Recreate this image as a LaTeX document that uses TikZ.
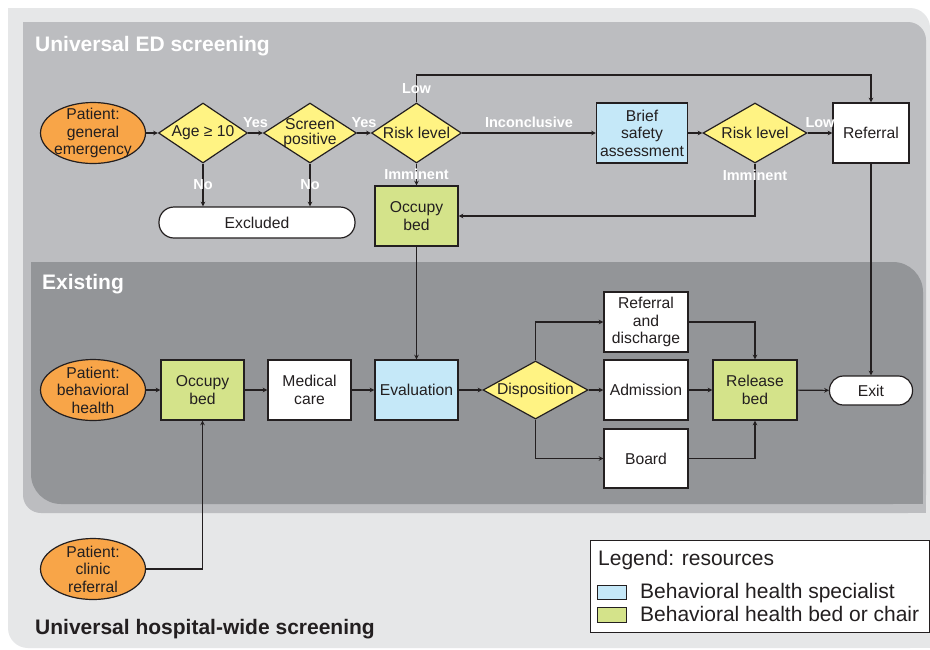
\documentclass[tikz,border=0pt]{standalone}
\usepackage{fontspec}
\setmainfont{Liberation Sans}
\usetikzlibrary{shapes.geometric}

\definecolor{ink}{HTML}{231F20}
\definecolor{lightbg}{HTML}{E6E7E8}
\definecolor{midbg}{HTML}{BCBDC0}
\definecolor{darkbg}{HTML}{939598}
\definecolor{orangec}{HTML}{F8A548}
\definecolor{yellowc}{HTML}{FFF383}
\definecolor{bluec}{HTML}{C5E8F8}
\definecolor{greenc}{HTML}{D4E38A}

\newcommand{\nodefont}{\fontsize{15.7}{17.5}\selectfont}
\newcommand{\legfont}{\fontsize{21}{24}\selectfont}

\begin{document}
\begin{tikzpicture}[x=1pt, y=-1pt,
   box/.style={draw=ink, line width=1.2pt, minimum width=83pt, minimum height=60pt, inner sep=0pt, align=center, font=\nodefont, text=ink},
   decision/.style={diamond, aspect=1.5, draw=ink, fill=yellowc, line width=1.2pt, minimum width=90pt, minimum height=60pt, inner sep=0pt, align=center, font=\nodefont, text=ink},
   patient/.style={ellipse, draw=ink, fill=orangec, line width=1.2pt, minimum width=105pt, minimum height=61pt, inner sep=-5pt, align=center, font=\nodefont, text=ink},
   term/.style={rectangle, rounded corners=15pt, draw=ink, fill=white, line width=1.2pt, inner sep=0pt, font=\nodefont, text=ink},
   lab/.style={text=white, font=\bfseries\fontsize{14.5}{16}\selectfont, inner sep=1pt},
   title/.style={text=white, font=\bfseries\fontsize{21}{24}\selectfont, anchor=base west, inner sep=0pt},
   arr/.style={-stealth, draw=ink, line width=1.1pt}]
   \useasboundingbox[fill=white] (0,0) rectangle (930,649);
   % background panels
   \fill[lightbg, rounded corners=20pt] (8,8) rectangle (930,648);
   \fill[lightbg] (8,8) rectangle (60,60);
   \fill[lightbg] (880,600) rectangle (930,648);
   \fill[midbg, rounded corners=18pt] (23,22) rectangle (926,513);
   \fill[midbg] (23,22) rectangle (60,60);
   \fill[midbg] (880,470) rectangle (926,513);
   \fill[darkbg, rounded corners=30pt] (31,262) rectangle (923,504);
   \fill[darkbg] (31,262) rectangle (80,300);
   \fill[darkbg] (870,460) rectangle (923,504);

   \node[title] (edtitle) at (35,51) {Universal ED screening};
   \node[title] (extitle) at (42,289) {Existing};
   \node[title, text=ink] (hwtitle) at (35,634) {Universal hospital-wide screening};

   % universal ED screening
   \node[patient] (ge) at (93,133) {Patient:\\general\\emergency};
   \node[decision, minimum width=89pt] (age) at (203,133) {Age ≥ 10};
   \node[decision, minimum width=93pt, inner sep=-5pt, font=\fontsize{15.7}{14.5}\selectfont] (scr) at (310,133) {Screen\\positive};
   \node[decision] (risk1) at (416.5,133) {Risk level};
   \node[box, fill=bluec, minimum width=91pt] (brief) at (642,133) {Brief\\safety\\assessment};
   \node[decision, aspect=1.7, minimum width=104pt] (risk2) at (755,133) {Risk level};
   \node[box, fill=white, minimum width=76pt] (ref) at (871,133) {Referral};
   \node[term, minimum width=196pt, minimum height=31pt] (excl) at (257,222.5) {Excluded};
   \node[box, fill=greenc] (occ1) at (416.5,216) {Occupy\\bed};
   \coordinate (lowtop) at (871,75);

   % existing
   \node[patient] (bh) at (93,390) {Patient:\\behavioral\\health};
   \node[box, fill=greenc] (occ2) at (202.5,390) {Occupy\\bed};
   \node[box, fill=white] (med) at (309.5,390) {Medical\\care};
   \node[box, fill=bluec] (eval) at (416.5,390) {Evaluation};
   \node[decision, aspect=1.8, minimum width=105pt, minimum height=58pt] (disp) at (535.5,390) {Disposition};
   \node[box, fill=white, minimum width=84pt] (refdis) at (646,322) {Referral\\and\\discharge};
   \node[box, fill=white, minimum width=84pt] (adm) at (646,390) {Admission};
   \node[box, fill=white, minimum width=84pt, minimum height=59pt] (board) at (646,458.5) {Board};
   \node[box, fill=greenc, minimum width=84pt] (rel) at (755,390) {Release\\bed};
   \node[term, rounded corners=14pt, minimum width=83pt, minimum height=29pt] (exit) at (871,390.5) {Exit};

   % hospital-wide
   \node[patient] (clin) at (93,569) {Patient:\\clinic\\referral};

   \draw[arr] (ge) -- (age);
   \draw[arr] (age) -- node[lab, above=4pt] {Yes} (scr);
   \draw[arr] (scr) -- node[lab, above=4pt] {Yes} (risk1);
   \draw[arr] (age) -- node[lab] {No} (age |- excl.north);
   \draw[arr] (scr) -- node[lab] {No} (scr |- excl.north);
   \draw[arr] (risk1) -- node[lab] {Imminent} (occ1);
   \draw[arr] (risk1) -- node[lab, above=4pt] {Inconclusive} (brief);
   \draw[arr] (risk1.north) |- node[lab, pos=0.25] {Low} (lowtop) -- (ref.north);
   \draw[arr] (brief) -- (risk2);
   \draw[arr] (risk2) -- node[lab, above=4pt] {Low} (ref);
   \draw[arr] (risk2.south) |- node[lab, pos=0.113] {Imminent} (occ1.east);
   \draw[arr] (occ1) -- (eval);
   \draw[arr] (ref) -- (exit);

   \draw[arr] (bh) -- (occ2);
   \draw[arr] (occ2) -- (med);
   \draw[arr] (med) -- (eval);
   \draw[arr] (eval) -- (disp);
   \draw[arr] (disp.north) |- (refdis.west);
   \draw[arr] (disp) -- (adm);
   \draw[arr] (disp.south) |- (board.west);
   \draw[arr] (refdis.east) -| (rel.north);
   \draw[arr] (adm) -- (rel);
   \draw[arr] (board.east) -| (rel.south);
   \draw[arr] (rel) -- (exit);
   \draw[arr] (clin.east) -| (occ2.south);

   % legend
   \node[draw=ink, fill=white, line width=0.8pt, minimum width=339pt, minimum height=92pt, anchor=north west, inner sep=0pt] (legend) at (590,540) {};
   \node[anchor=base west, inner sep=0pt, font=\legfont, text=ink] (legtitle) at (598,565) {Legend: resources};
   \draw[draw=ink, fill=bluec, line width=0.8pt] (597,585) rectangle (626,599);
   \draw[draw=ink, fill=greenc, line width=0.8pt] (597,607) rectangle (626,622);
   \node[anchor=base west, inner sep=0pt, font=\legfont, text=ink] (legspec) at (640,598) {Behavioral health specialist};
   \node[anchor=base west, inner sep=0pt, font=\legfont, text=ink] (legbed) at (640,621) {Behavioral health bed or chair};
\end{tikzpicture}
\end{document}
